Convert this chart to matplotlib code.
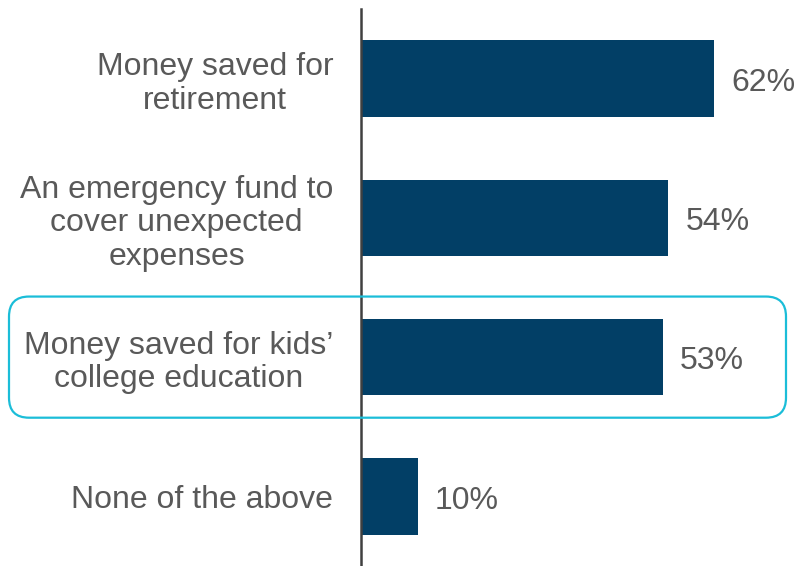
import matplotlib.pyplot as plt
from matplotlib.patches import FancyBboxPatch
from matplotlib.transforms import IdentityTransform

labels = ["Money saved for\nretirement",
          "An emergency fund to\ncover unexpected\nexpenses",
          "Money saved for kids\u2019\ncollege education",
          "None of the above"]
values = [62, 54, 53, 10]
highlight = 2

plt.rcParams['font.family'] = ['Liberation Sans', 'DejaVu Sans']

fig = plt.figure(figsize=(8, 5.66), dpi=100)
ax = fig.add_axes([0.45125, 0.0, 0.54875, 1 - 9 / 566])

ypos = list(range(len(values)))
ax.barh(ypos, values, height=0.55, color="#023F66")
ax.set_xlim(0, 77.1)
ax.set_ylim(3.5, -0.5)

for y, v in zip(ypos, values):
    ax.text(v + 3.0, y + 0.03, f"{v}%", va="center", ha="left",
            fontsize=23, color="#595959")

ax.set_yticks(ypos)
ax.set_yticklabels(labels, fontsize=23, color="#595959", ha="right",
                   linespacing=1.15)
for lab in ax.get_yticklabels():
    lab.set_multialignment("center")
ax.tick_params(axis="y", length=0, pad=20)
ax.set_xticks([])
for s in ["top", "right", "bottom"]:
    ax.spines[s].set_visible(False)
ax.spines["left"].set_color("#404040")
ax.spines["left"].set_linewidth(1.8)

# highlight box around one row (pixel space)
fig.canvas.draw()
_, ytop = ax.transData.transform((0, highlight - 0.435))
_, ybot = ax.transData.transform((0, highlight + 0.435))
x0, x1 = 9, 786
box = FancyBboxPatch((x0, min(ytop, ybot)), x1 - x0, abs(ytop - ybot),
                     boxstyle="round,pad=0,rounding_size=20",
                     transform=IdentityTransform(), fill=False,
                     edgecolor="#1BBDD8", linewidth=1.6, zorder=5)
fig.patches.append(box)

fig.savefig("out.png", dpi=100)
